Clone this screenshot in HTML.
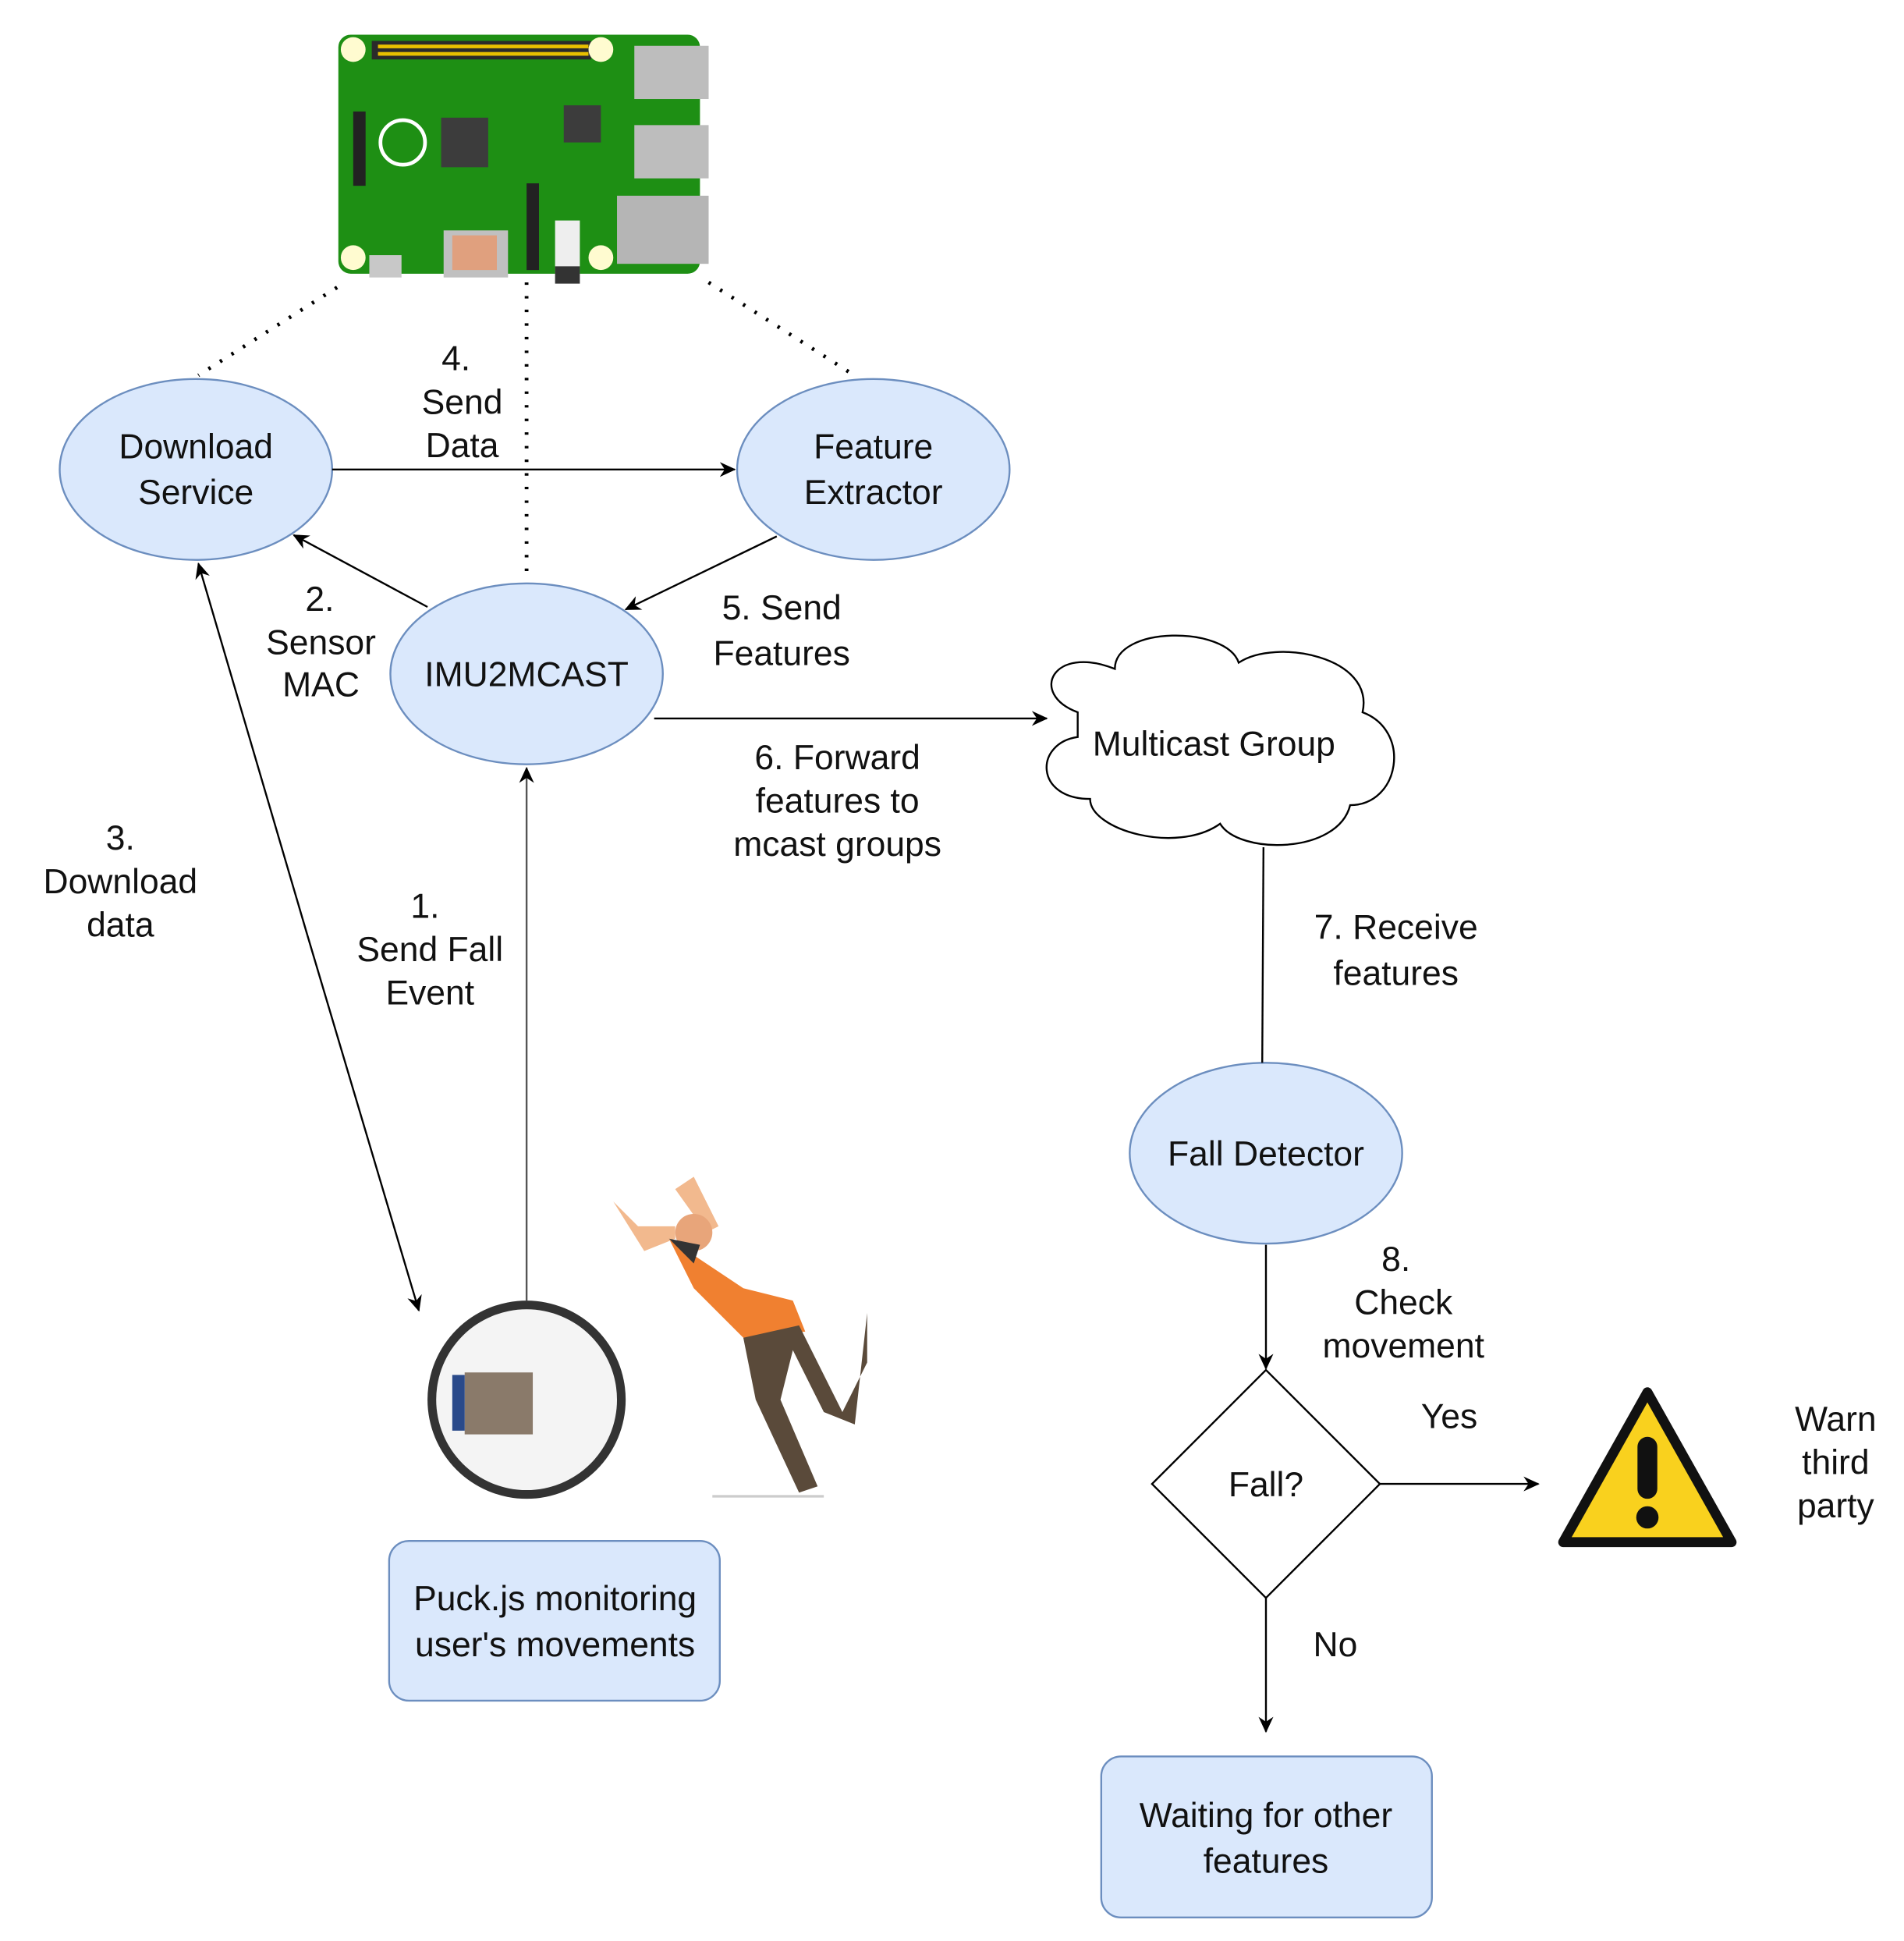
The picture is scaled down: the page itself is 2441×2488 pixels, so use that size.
<!DOCTYPE html>
<html><head><meta charset="utf-8"><style>
html,body{margin:0;padding:0;background:#fff}
svg{display:block}
text{font-family:"Liberation Sans",sans-serif;font-size:28px;fill:#111;text-anchor:middle}
</style></head><body>
<svg width="2441" height="2488" viewBox="0 0 1537 1567" xmlns="http://www.w3.org/2000/svg">
<defs>
<marker id="a" markerWidth="14" markerHeight="14" refX="12" refY="7" orient="auto" markerUnits="userSpaceOnUse">
<path d="M0,1 L13,7 L0,13 L4,7 Z" fill="#000"/></marker>
</defs>
<g>
<rect x="273" y="28" width="292" height="193" rx="10" fill="#1e8f14"/>
<rect x="300" y="33" width="177" height="15" fill="#2a2a2a"/>
<g fill="#e8c000"><rect x="305" y="36" width="170" height="3"/><rect x="305" y="42" width="170" height="3"/></g>
<circle cx="285" cy="40" r="10" fill="#fffbd0"/><circle cx="485" cy="40" r="10" fill="#fffbd0"/>
<circle cx="285" cy="208" r="10" fill="#fffbd0"/><circle cx="485" cy="208" r="10" fill="#fffbd0"/>
<rect x="512" y="37" width="60" height="43" fill="#bdbdbd"/>
<rect x="512" y="101" width="60" height="43" fill="#bdbdbd"/>
<rect x="498" y="158" width="74" height="55" fill="#b5b5b5"/>
<rect x="356" y="95" width="38" height="40" fill="#3c3c3c"/>
<rect x="455" y="85" width="30" height="30" fill="#3c3c3c"/>
<rect x="285" y="90" width="10" height="60" fill="#222"/>
<rect x="425" y="148" width="10" height="70" fill="#222"/>
<rect x="358" y="186" width="52" height="38" fill="#c0c0c0"/><rect x="365" y="190" width="36" height="28" fill="#e0a07e"/>
<rect x="298" y="206" width="26" height="18" fill="#c8c8c8"/>
<rect x="448" y="178" width="20" height="50" fill="#eee"/><rect x="448" y="215" width="20" height="14" fill="#333"/>
<circle cx="325" cy="115" r="18" fill="none" stroke="#fff" stroke-width="3"/>
</g>
<g stroke="#000" stroke-width="3" stroke-dasharray="2,9" fill="none">
<line x1="272" y1="232" x2="160" y2="303"/><line x1="425" y1="228" x2="425" y2="470"/><line x1="572" y1="228" x2="688" y2="302"/>
</g>
<g fill="#dae8fc" stroke="#6c8ebf" stroke-width="1.5">
<ellipse cx="158" cy="379" rx="110" ry="73"/>
<ellipse cx="705" cy="379" rx="110" ry="73"/>
<ellipse cx="425" cy="544" rx="110" ry="73"/>
<ellipse cx="1022" cy="931" rx="110" ry="73"/>
<rect x="314" y="1244" width="267" height="129" rx="16"/>
<rect x="889" y="1418" width="267" height="130" rx="16"/>
</g>
<g stroke="#000" stroke-width="1.5" fill="none">
<line x1="268" y1="379" x2="593" y2="379" marker-end="url(#a)"/>
<line x1="345" y1="490" x2="237" y2="432" marker-end="url(#a)"/>
<line x1="627" y1="433" x2="505" y2="492" marker-end="url(#a)"/>
<line x1="528" y1="580" x2="845" y2="580" marker-end="url(#a)"/>
<line x1="1020" y1="684" x2="1019" y2="858"/>
<line x1="1022" y1="1005" x2="1022" y2="1105" marker-end="url(#a)"/>
<line x1="1114" y1="1198" x2="1242" y2="1198" marker-end="url(#a)"/>
<line x1="1022" y1="1290" x2="1022" y2="1398" marker-end="url(#a)"/>
<line x1="425" y1="1050" x2="425" y2="620" stroke="#555" marker-end="url(#a)"/>
<line x1="248" y1="755" x2="160" y2="455" marker-end="url(#a)"/>
<line x1="248" y1="755" x2="338" y2="1058" marker-end="url(#a)"/>
<polygon points="1022,1106 1114,1198 1022,1290 930,1198" fill="#fff"/>
<path d="M870,575 C830,560 850,520 900,540 C900,505 990,505 1000,535 C1030,515 1110,530 1100,575 C1140,590 1130,650 1090,650 C1080,690 1000,690 985,665 C950,690 880,670 880,645 C835,645 835,600 870,595 Z" fill="#fff"/>
</g>
<path d="M1330,1124 L1398,1245 L1262,1245 Z" fill="#f9d11e" stroke="#111" stroke-width="8" stroke-linejoin="round"/>
<rect x="1322" y="1160" width="16" height="50" rx="8" fill="#111"/><circle cx="1330" cy="1225" r="9" fill="#111"/>
<circle cx="425" cy="1130" r="80" fill="#333"/><circle cx="425" cy="1130" r="73" fill="#f4f4f4"/>
<rect x="375" y="1108" width="55" height="50" fill="#8a7a6a"/><rect x="365" y="1110" width="10" height="45" fill="#2a4a8a"/>
<g>
<path d="M540,1000 L600,1040 L640,1050 L650,1075 L600,1080 L560,1040 Z" fill="#f08030"/>
<path d="M600,1080 L645,1070 L680,1140 L700,1100 L700,1060 L690,1150 L665,1140 L640,1090 L630,1130 L660,1200 L645,1205 L610,1130 Z" fill="#5a4a3a"/>
<path d="M495,970 L520,1010 L545,1000 L545,990 L515,990 Z M560,950 L580,990 L570,995 L545,960 Z" fill="#f2b98e"/>
<circle cx="560" cy="995" r="15" fill="#e8a57a"/><path d="M540,1000 L560,1020 L565,1005 Z" fill="#333"/>
<line x1="575" y1="1208" x2="665" y2="1208" stroke="#ccc" stroke-width="2"/>
</g>
<text x="158" y="370">Download</text><text x="158" y="407">Service</text>
<text x="705" y="370">Feature</text><text x="705" y="407">Extractor</text>
<text x="425" y="554">IMU2MCAST</text>
<text x="980" y="610">Multicast Group</text>
<text x="1022" y="941">Fall Detector</text>
<text x="1022" y="1208">Fall?</text>
<text x="448" y="1300">Puck.js monitoring</text><text x="448" y="1337">user's movements</text>
<text x="1022" y="1475">Waiting for other</text><text x="1022" y="1512">features</text>
<text x="368" y="299">4.</text><text x="373" y="334">Send</text><text x="373" y="369">Data</text>
<text x="258" y="493">2.</text><text x="259" y="528">Sensor</text><text x="259" y="562">MAC</text>
<text x="631" y="500">5. Send</text><text x="631" y="537">Features</text>
<text x="676" y="621">6. Forward</text><text x="676" y="656">features to</text><text x="676" y="691">mcast groups</text>
<text x="97" y="686">3.</text><text x="97" y="721">Download</text><text x="97" y="756">data</text>
<text x="343" y="741">1.</text><text x="347" y="776">Send Fall</text><text x="347" y="811">Event</text>
<text x="1127" y="758">7. Receive</text><text x="1127" y="795">features</text>
<text x="1127" y="1026">8.</text><text x="1133" y="1061">Check</text><text x="1133" y="1096">movement</text>
<text x="1170" y="1153">Yes</text><text x="1078" y="1337">No</text>
<text x="1482" y="1155">Warn</text><text x="1482" y="1190">third</text><text x="1482" y="1225">party</text>
</svg>
</body></html>
